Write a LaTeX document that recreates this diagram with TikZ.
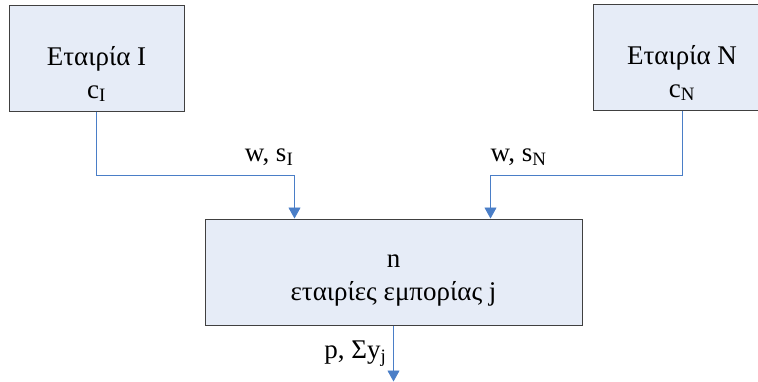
\documentclass[tikz,border=0pt]{standalone}
\usepackage{fontspec}
\setmainfont{Liberation Serif}
\usetikzlibrary{arrows.meta,positioning}
\definecolor{boxfill}{HTML}{E6ECF7}
\definecolor{lineblue}{HTML}{4A7EC7}

\begin{document}
\begin{tikzpicture}[
  x=1pt, y=-1pt,
  box/.style={rectangle, draw=black!75, fill=boxfill, line width=1pt, minimum height=106pt},
  txt/.style={align=center, font=\fontsize{27}{33}\selectfont},
  arr/.style={-{Triangle[length=11pt,width=12pt]}, draw=lineblue, line width=0.9pt},
  lbl/.style={font=\fontsize{27}{30}\selectfont, inner sep=0pt}
]
\useasboundingbox (0,0) rectangle (758,381);

% Trading firms
\node[box, minimum width=377pt, label={[txt, yshift=-9pt]center:{n\\εταιρίες εμπορίας j}}] (traders) at (393.5,272) {};

% Producers
\node[box, minimum width=175pt, label={[txt, yshift=-16pt]center:{Εταιρία I\\c\textsubscript{I}}}, above left=107pt and 20pt of traders] (firmI) {};
\node[box, minimum width=178pt, label={[txt, yshift=-16pt]center:{Εταιρία N\\c\textsubscript{N}}}, above right=108pt and 10pt of traders] (firmN) {};

% Ends of the connectors
\coordinate (inI) at ([xshift=-99pt]traders.north);
\coordinate (inN) at ([xshift=97pt]traders.north);
\coordinate (out) at ([yshift=-56pt]traders.south);

% Arrows
\draw[arr] (firmI.south) |- ([yshift=43pt]inI) -- (inI);
\draw[arr] (firmN.south) |- ([yshift=43pt]inN) -- (inN);
\draw[arr] (traders.south) -- (out);

% Labels
\node[lbl, anchor=base east] (lblI) at ([xshift=-1pt,yshift=57pt]inI) {w, s\textsubscript{I}};
\node[lbl, anchor=base west] (lblN) at ([yshift=57pt]inN) {w, s\textsubscript{N}};
\node[lbl, anchor=base east] (lblout) at ([xshift=-7pt,yshift=-33pt]traders.south) {p, Σy\textsubscript{j}};

\end{tikzpicture}
\end{document}
